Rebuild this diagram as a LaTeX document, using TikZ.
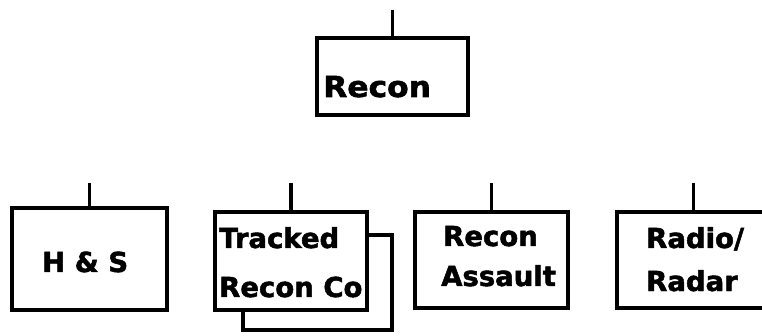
\documentclass[tikz,border=0pt]{standalone}
\usepackage{fontspec}
\newfontfamily\lblfont{DejaVu Sans}[BoldFeatures={FakeBold=1.8}]
\begin{document}
\begin{tikzpicture}[x=1pt,y=-1pt,
  box/.style={draw=black,line width=4.4pt,fill=white,rectangle,inner sep=0pt},
  stem/.style={draw=black,line width=3.6pt},
  lbl/.style={anchor=base west,inner sep=0pt,font=\lblfont\bfseries\fontsize{27.5}{30}\selectfont}]
\useasboundingbox (0,0) rectangle (762,336);
\clip (0,0) rectangle (762,336);
% top box
\node[box,minimum width=151pt,minimum height=77pt] (recon) at (392.5,76.5) {};
\coordinate (rtop) at (392.5,10);
\draw[stem] (rtop) -- (recon.north);
\node[lbl,xscale=1.08,font=\lblfont\bfseries\fontsize{29}{32}\selectfont] (lrecon) at (323,97) {Recon};
% bottom boxes
\node[box,minimum width=155pt,minimum height=102pt] (hs) at (89.5,259) {};
\node[box,minimum width=149pt,minimum height=95pt] (shadow) at (317.5,282.5) {};
\node[box,minimum width=152pt,minimum height=98pt] (tracked) at (291,261) {};
\node[box,minimum width=153pt,minimum height=96pt] (assault) at (491.5,260) {};
\node[box,minimum width=153pt,minimum height=96pt] (radio) at (693.5,260) {};
\coordinate (t1) at (89.5,183);
\coordinate (t2) at (291,183);
\coordinate (t3) at (491.5,183);
\coordinate (t4) at (693.5,183);
\draw[stem] (t1) -- (hs.north);
\draw[stem] (t2) -- (tracked.north);
\draw[stem] (t3) -- (assault.north);
\draw[stem] (t4) -- (radio.north);
% labels
\node[lbl] (lhs) at (42,272) {H \& S};
\node[lbl] (ltr1) at (219,248) {Tracked};
\node[lbl] (ltr2) at (219,297) {Recon Co};
\node[lbl] (las1) at (443,246) {Recon};
\node[lbl] (las2) at (441,286) {Assault};
\node[lbl] (lra1) at (646,248) {Radio/};
\node[lbl] (lra2) at (646,291) {Radar};
\end{tikzpicture}
\end{document}
